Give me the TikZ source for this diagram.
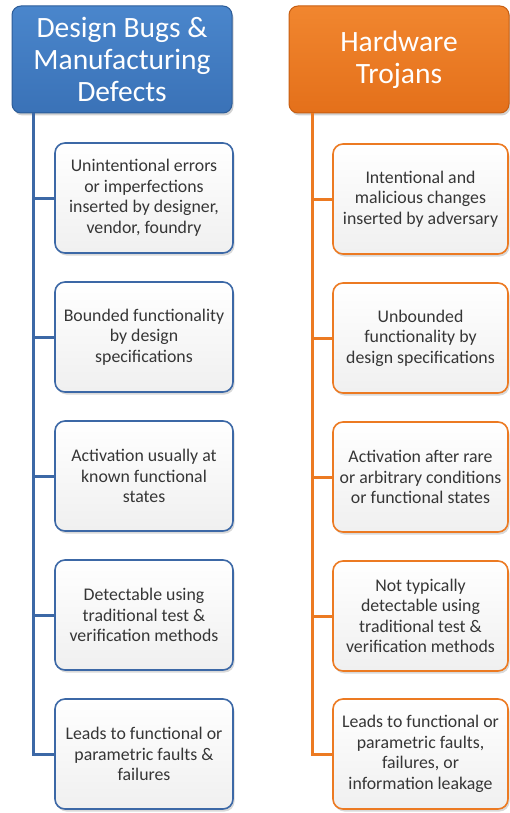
\documentclass[tikz,border=0pt]{standalone}
\usepackage{fontspec}
\setmainfont{Carlito}
\usetikzlibrary{shadows}
\definecolor{bugblue}{HTML}{3A72B7}
\definecolor{bugblueTop}{HTML}{4A86CC}
\definecolor{bugblueEdge}{HTML}{2C5C98}
\definecolor{bugline}{HTML}{3C68A6}
\definecolor{trojorange}{HTML}{E4701A}
\definecolor{trojorangeTop}{HTML}{F1862F}
\definecolor{trojorangeEdge}{HTML}{C75E12}
\definecolor{trojline}{HTML}{EC7A22}
\definecolor{boxtext}{HTML}{363636}
\tikzset{
  header/.style={rounded corners=9pt, minimum width=220pt, minimum height=107pt,
    align=center, text=white, line width=1pt,
    font=\fontsize{29.5}{32}\selectfont,
    drop shadow={opacity=0.35, shadow xshift=1.5pt, shadow yshift=-2.5pt}},
  bughead/.style={header, draw=bugblueEdge, top color=bugblueTop, bottom color=bugblue},
  trojhead/.style={header, draw=trojorangeEdge, top color=trojorangeTop, bottom color=trojorange},
  item/.style={rounded corners=10pt, minimum height=110pt, align=center,
    text=boxtext, line width=1.6pt, top color=white, bottom color=black!6,
    font=\fontsize{17.8}{20.5}\selectfont,
    drop shadow={opacity=0.3, shadow xshift=1.5pt, shadow yshift=-2.5pt}},
  bugitem/.style={item, draw=bugline, minimum width=178pt},
  trojitem/.style={item, draw=trojline, minimum width=175pt},
  bugwire/.style={draw=bugline, line width=3pt},
  trojwire/.style={draw=trojline, line width=3pt},
}
\begin{document}
\begin{tikzpicture}[x=1pt, y=-1pt]
\useasboundingbox (0,0) rectangle (509,813);

% headers
\node[bughead] (hL) at (122,59.5) {Design Bugs \&\\Manufacturing\\Defects};
\node[trojhead] (hR) at (399,59.5) {Hardware\\Trojans};

% spine start points
\coordinate (sL) at (33,113);
\coordinate (sR) at (312,113);

% left column
\node[bugitem] (l1) at (144,198) {Unintentional errors\\or imperfections\\inserted by designer,\\vendor, foundry};
\node[bugitem] (l2) at (144,337) {Bounded functionality\\by design\\specifications};
\node[bugitem] (l3) at (144,476) {Activation usually at\\known functional\\states};
\node[bugitem] (l4) at (144,615) {Detectable using\\traditional test \&\\verification methods};
\node[bugitem] (l5) at (144,754) {Leads to functional or\\parametric faults \&\\failures};

% right column
\node[trojitem] (r1) at (420.5,199) {Intentional and\\malicious changes\\inserted by adversary};
\node[trojitem] (r2) at (420.5,338) {Unbounded\\functionality by\\design specifications};
\node[trojitem] (r3) at (420.5,477) {Activation after rare\\or arbitrary conditions\\or functional states};
\node[trojitem] (r4) at (420.5,616) {Not typically\\detectable using\\traditional test \&\\verification methods};
\node[trojitem] (r5) at (420.5,754) {Leads to functional or\\parametric faults,\\failures, or\\information leakage};

% connectors: spine down each column, one branch per box
\draw[bugwire] (sL) |- (l5.west);
\foreach \b in {l1,l2,l3,l4}
  \draw[bugwire] (sL |- \b.west) -- (\b.west);
\draw[trojwire] (sR) |- (r5.west);
\foreach \b in {r1,r2,r3,r4}
  \draw[trojwire] (sR |- \b.west) -- (\b.west);
\end{tikzpicture}
\end{document}
